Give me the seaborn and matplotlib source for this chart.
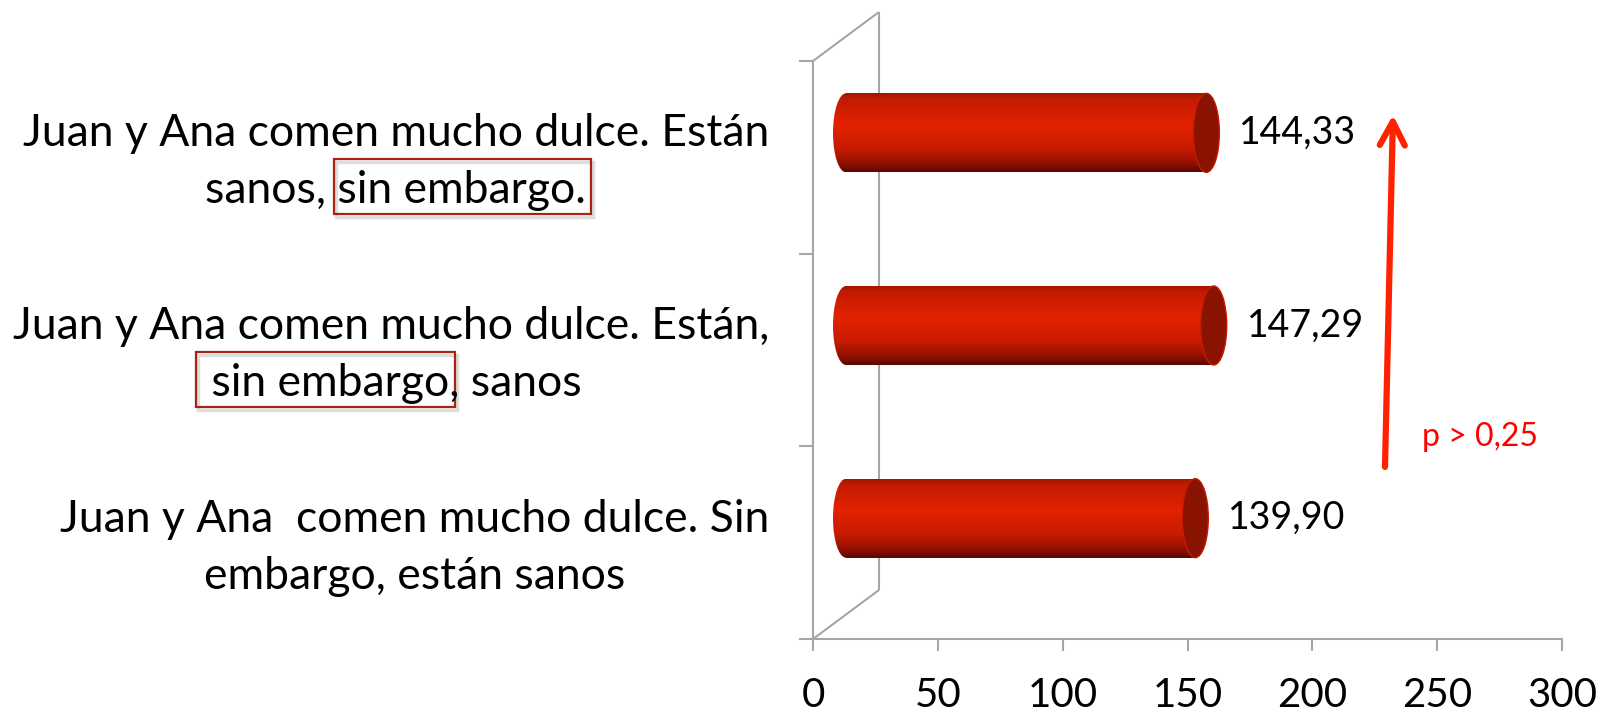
import numpy as np
import pandas as pd
import matplotlib
matplotlib.use('Agg')
import matplotlib.pyplot as plt
import matplotlib.transforms as mtransforms
from matplotlib.patches import Ellipse, Rectangle
from matplotlib.colors import LinearSegmentedColormap
import seaborn as sns

# data
labels = ['Juan y Ana comen mucho dulce. Están\nsanos, sin embargo.',
          'Juan y Ana comen mucho dulce. Están,\n sin embargo, sanos',
          'Juan y Ana  comen mucho dulce. Sin\nembargo, están sanos']
values = [144.33, 147.29, 139.90]
value_text = ['144,33', '147,29', '139,90']
xticks = [0, 50, 100, 150, 200, 250, 300]
note = 'p > 0,25'

W, H = 1607, 713
sns.set_theme(style='white')
plt.rcParams['font.family'] = ['Lato', 'DejaVu Sans']
plt.rcParams['text.color'] = 'black'

gray = '#a6a6a6'
fig = plt.figure(figsize=(W / 100, H / 100), dpi=100)

# front frame of the 3d chart, and the bars sit half way into the depth
x0, x1, ytop, ybot = 813, 1562, 61, 639
ddx, ddy = 66, 49
ppu = (x1 - x0) / 300.0
xpad = 12  # room left of zero for the rounded bar ends
ax = fig.add_axes([x0 / W, 1 - ybot / H, (x1 - x0) / W, (ybot - ytop) / H])
axb = fig.add_axes([(x0 + ddx / 2 - xpad * ppu) / W, 1 - (ybot - ddy / 2) / H,
                    (x1 - x0 + xpad * ppu) / W, (ybot - ytop) / H])

df = pd.DataFrame({'label': labels, 'value': values})
sns.barplot(data=df, x='value', y='label', orient='h', color='#e02000',
            width=0.41, errorbar=None, ax=axb)

cyl = LinearSegmentedColormap.from_list('cyl', [
    (0.0, '#a01500'), (0.08, '#c41b00'), (0.4, '#e32200'),
    (0.7, '#c81b00'), (0.9, '#8e1000'), (1.0, '#5c0700')])
grad = np.linspace(0, 1, 256).reshape(-1, 1)
cap_w = 26 / ppu

for i, bar in enumerate(axb.patches):
    bx, by, bw, bh = bar.get_x(), bar.get_y(), bar.get_width(), bar.get_height()
    yc = by + bh / 2
    bar.set_facecolor('none')
    bar.set_edgecolor('none')
    ext = (bx - cap_w, bx + bw, by + bh, by)
    im = axb.imshow(grad, cmap=cyl, aspect='auto', extent=ext, zorder=2)
    im.set_clip_path(bar)
    left = Ellipse((bx, yc), cap_w, bh, facecolor='none', edgecolor='none')
    axb.add_patch(left)
    im2 = axb.imshow(grad, cmap=cyl, aspect='auto', extent=ext, zorder=2)
    im2.set_clip_path(left)
    axb.add_patch(Ellipse((bx + bw, yc), cap_w, bh, facecolor='#8a1200',
                          edgecolor='#c41b00', lw=1, zorder=3))
    axb.text(bx + bw + cap_w / 2 + 8, yc, value_text[i], ha='left', va='center',
             fontsize=27, color='black')

axb.set_xlim(-xpad, 300)
axb.set_ylim(2.5, -0.5)
axb.axis('off')
axb.patch.set_visible(False)

# front axes: floor line and left wall
ax.set_xlim(0, 300)
ax.set_ylim(3, 0)
ax.set_xticks(xticks)
ax.set_xticklabels([str(t) for t in xticks], fontsize=29)
ax.set_yticks([0, 1, 2, 3])
ax.set_yticklabels([])
for s in ['top', 'right']:
    ax.spines[s].set_visible(False)
for s in ['left', 'bottom']:
    ax.spines[s].set_color(gray)
    ax.spines[s].set_linewidth(1.5)
ax.tick_params(axis='x', length=8.6, width=1.5, color=gray, pad=19, direction='out',
               bottom=True, labelcolor='black')
ax.tick_params(axis='y', length=10, width=1.5, color=gray, direction='out', left=True)
ax.set_facecolor('white')

# back wall and the depth edges
ident = mtransforms.IdentityTransform()
p_top = ax.transAxes.transform((0, 1))
p_bot = ax.transAxes.transform((0, 0))
for a, b in [(p_top, p_top + (ddx, ddy)), (p_bot, p_bot + (ddx, ddy)),
             (p_bot + (ddx, ddy), p_top + (ddx, ddy))]:
    ax.plot([a[0], b[0]], [a[1], b[1]], color=gray, lw=1.5, transform=ident,
            clip_on=False, solid_capstyle='butt')

# arrow and p value
ax.annotate('', xy=(232.3, 0.28), xytext=(229.1, 2.107),
            arrowprops=dict(arrowstyle='->,head_length=0.85,head_width=0.45',
                            lw=4.5, color='#ff2200', mutation_scale=20,
                            capstyle='round', joinstyle='round', shrinkA=0, shrinkB=0))
ax.text(243.9, 1.95, note, ha='left', va='center', fontsize=23, color='#ff0000')

# category labels, right aligned block, lines centered, with boxes
renderer = fig.canvas.get_renderer()
lab_size = 32


def text_w(s):
    t = fig.text(0, 0, s, fontsize=lab_size)
    w = t.get_window_extent(renderer).width
    t.remove()
    return w


right_edge = 769
boxes = [('right', 'sin embargo.'), ('left', ' sin embargo'), None]
for i, lab in enumerate(labels):
    l1, l2 = lab.split('\n')
    yc = H - ax.transData.transform((0, i + 0.5))[1]
    w1, w2 = text_w(l1), text_w(l2)
    c = right_edge - max(w1, w2) / 2
    b1, b2 = yc - 11, yc + 46
    fig.text(c, H - b1, l1, fontsize=lab_size, ha='center', va='baseline', transform=ident)
    t2 = fig.text(c, H - b2, l2, fontsize=lab_size, ha='center', va='baseline', transform=ident)
    if boxes[i] is not None:
        side, sub = boxes[i]
        bb = t2.get_window_extent(renderer)
        ws = text_w(sub)
        if side == 'right':
            bl, br = bb.x1 - ws - 4, bb.x1 + 5
        else:
            bl, br = bb.x0 - 4, bb.x0 + ws + 6
        top, bot = b2 - 44, b2 + 11
        fig.add_artist(Rectangle((bl + 2, H - bot - 3), br - bl, bot - top, transform=ident,
                                 facecolor='none', edgecolor='#dddddd', lw=2.5))
        fig.add_artist(Rectangle((bl, H - bot), br - bl, bot - top, transform=ident,
                                 facecolor='none', edgecolor='#a52414', lw=1.6))

fig.savefig('out.png', dpi=100)
